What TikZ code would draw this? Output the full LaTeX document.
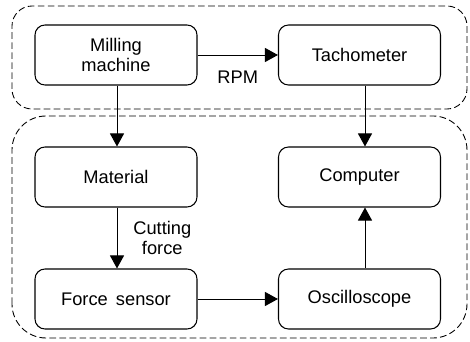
\documentclass[tikz,border=0pt]{standalone}
\usepackage{fontspec}
\setmainfont{Liberation Sans}
\usepackage{tikz}
\usetikzlibrary{arrows.meta, positioning, calc}
\tikzset{
  block/.style = {draw, line width=0.6pt, rounded corners=0.2cm, align=center, minimum width=3.24cm, minimum height=1.2cm, font=\fontsize{10.4}{11}\selectfont},
  arrow/.style = {-{Triangle[length=0.26cm, width=0.28cm]}, line width=0.55pt},
  group/.style = {draw, dash pattern=on 3.8pt off 1.9pt, line width=0.5pt}
}

\begin{document}
\begin{tikzpicture}
  \useasboundingbox (0,0) rectangle (9.4,6.84);

  % groups
  \draw[group, rounded corners=0.4cm]  (0.24,4.66) rectangle (9.34,6.72);
  \draw[group, rounded corners=0.68cm] (0.24,0.08) rectangle (9.34,4.52);

  % blocks
  \node[block] (mill)  at (2.32,5.74) {Milling\\machine};
  \node[block] (tacho) at (7.19,5.74) {Tachometer};
  \node[block] (mat)   at (2.32,3.30) {Material};
  \node[block] (comp)  at (7.19,3.30) {Computer};
  \node[block] (force) at (2.32,0.86) {Force\, sensor};
  \node[block] (osc)   at (7.19,0.86) {Oscilloscope};

  % connections
  \draw[arrow] (mill) -- node[below=0.2cm, font=\fontsize{10.4}{11}\selectfont] (rpm) {RPM} (tacho);
  \draw[arrow] ([xshift=0.02cm]mill.south) -- ([xshift=0.02cm]mat.north);
  \draw[arrow] ([xshift=0.11cm]tacho.south) -- ([xshift=0.11cm]comp.north);
  \draw[arrow] ([xshift=0.02cm]mat.south) -- node[right=0.2cm, align=center, font=\fontsize{10.4}{11}\selectfont] (cut) {Cutting\\force} ([xshift=0.02cm]force.north);
  \draw[arrow] (force) -- (osc);
  \draw[arrow] ([xshift=0.11cm]osc.north) -- ([xshift=0.11cm]comp.south);
\end{tikzpicture}
\end{document}
